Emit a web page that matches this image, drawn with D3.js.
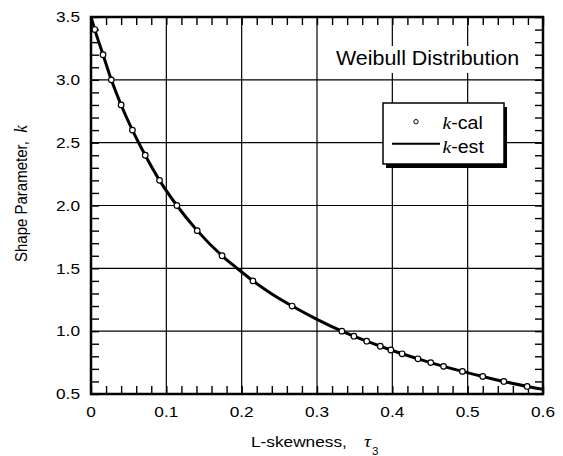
<!DOCTYPE html>
<html>
<head>
<meta charset="utf-8">
<script src="https://cdn.jsdelivr.net/npm/d3@7"></script>
<style>
  body { margin: 0; background: #fff; }
  svg { display: block; }
  text { font-family: "Liberation Sans", Arial, sans-serif; fill: #000; }
  .serif { font-family: "Liberation Serif", "Times New Roman", serif; font-style: italic; }
</style>
</head>
<body>
<div id="chart"></div>
<script>
// calculated points (k-cal)
var tauCal = [0.005, 0.016, 0.027, 0.040, 0.055, 0.072, 0.091, 0.114, 0.141, 0.174, 0.215, 0.267, 0.333,
              0.349, 0.366, 0.384, 0.398, 0.413, 0.434, 0.451, 0.468, 0.493, 0.520, 0.548, 0.579];
var kCal = [3.4, 3.2, 3.0, 2.8, 2.6, 2.4, 2.2, 2.0, 1.8, 1.6, 1.4, 1.2, 1.0,
            0.96, 0.92, 0.88, 0.85, 0.82, 0.78, 0.75, 0.72, 0.68, 0.64, 0.60, 0.56];

// estimated curve (k-est)
var tauEst = [0, 0.005, 0.016, 0.027, 0.040, 0.055, 0.072, 0.091, 0.114, 0.141, 0.174, 0.194, 0.215,
              0.239, 0.267, 0.298, 0.333, 0.366, 0.398, 0.434, 0.468, 0.493, 0.520, 0.548, 0.579, 0.6];
var kEst = [3.5, 3.4, 3.2, 3.0, 2.8, 2.6, 2.4, 2.2, 2.0, 1.8, 1.6, 1.5, 1.4,
            1.3, 1.2, 1.1, 1.0, 0.92, 0.85, 0.78, 0.72, 0.68, 0.64, 0.60, 0.56, 0.537];

var xTicks = [0, 0.1, 0.2, 0.3, 0.4, 0.5, 0.6];
var xLabels = ["0", "0.1", "0.2", "0.3", "0.4", "0.5", "0.6"];
var yTicks = [0.5, 1.0, 1.5, 2.0, 2.5, 3.0, 3.5];
var yLabels = ["0.5", "1.0", "1.5", "2.0", "2.5", "3.0", "3.5"];

var width = 563, height = 456;
var margin = {left: 91, top: 17, right: 20, bottom: 62};
var stretch = 1.15; // the reference text is a bit wider than tall

var svg = d3.select("#chart").append("svg")
    .attr("width", width)
    .attr("height", height);

var x = d3.scaleLinear().domain([0, 0.6]).range([margin.left, width - margin.right]);
var y = d3.scaleLinear().domain([0.5, 3.5]).range([height - margin.bottom, margin.top]);

// helper: horizontally stretched text
function label(px, py, size, anchor, sx) {
    var g = svg.append("g").attr("transform", "translate(" + px + "," + py + ")");
    return g.append("text")
        .attr("transform", "scale(" + (sx || stretch) + ",1)")
        .attr("text-anchor", anchor)
        .style("font-size", size + "px");
}

// grid
svg.append("g").selectAll("line").data(xTicks.slice(1, -1)).enter().append("line")
    .attr("x1", function(d) { return x(d); }).attr("x2", function(d) { return x(d); })
    .attr("y1", y(0.5)).attr("y2", y(3.5))
    .attr("stroke", "#000").attr("stroke-width", 1.2);
svg.append("g").selectAll("line").data(yTicks.slice(1, -1)).enter().append("line")
    .attr("y1", function(d) { return y(d); }).attr("y2", function(d) { return y(d); })
    .attr("x1", x(0)).attr("x2", x(0.6))
    .attr("stroke", "#000").attr("stroke-width", 1.2);

// minor ticks (inside, all four sides)
var xMinor = d3.range(0, 0.6001, 0.02);
var yMinor = d3.range(0.5, 3.5001, 0.1);
function minorAxis(axis, tx, ty) {
    var g = svg.append("g").attr("transform", "translate(" + tx + "," + ty + ")").call(axis);
    g.select(".domain").remove();
    g.selectAll("text").remove();
    g.selectAll("line").attr("stroke-width", 1.4);
}
minorAxis(d3.axisBottom(x).tickValues(xMinor).tickSize(-8), 0, y(0.5));
minorAxis(d3.axisTop(x).tickValues(xMinor).tickSize(-8), 0, y(3.5));
minorAxis(d3.axisLeft(y).tickValues(yMinor).tickSize(-8), x(0), 0);
minorAxis(d3.axisRight(y).tickValues(yMinor).tickSize(-8), x(0.6), 0);

// k-est curve
var estData = tauEst.map(function(t, i) { return [t, kEst[i]]; });
svg.append("defs").append("clipPath").attr("id", "clip")
    .append("rect").attr("x", x(0)).attr("y", y(3.5))
    .attr("width", x(0.6) - x(0)).attr("height", y(0.5) - y(3.5));
svg.append("path")
    .datum(estData)
    .attr("clip-path", "url(#clip)")
    .attr("fill", "none")
    .attr("stroke", "#000")
    .attr("stroke-width", 3)
    .attr("d", d3.line()
        .curve(d3.curveMonotoneX)
        .x(function(d) { return x(d[0]); })
        .y(function(d) { return y(d[1]); }));

// k-cal points
svg.append("g").selectAll("circle").data(tauCal).enter().append("circle")
    .attr("cx", function(d) { return x(d); })
    .attr("cy", function(d, i) { return y(kCal[i]); })
    .attr("r", 2.8)
    .attr("fill", "#fff")
    .attr("stroke", "#000")
    .attr("stroke-width", 1.2);

// frame
svg.append("rect")
    .attr("x", x(0)).attr("y", y(3.5))
    .attr("width", x(0.6) - x(0)).attr("height", y(0.5) - y(3.5))
    .attr("fill", "none").attr("stroke", "#000").attr("stroke-width", 2.5);

// tick labels
xTicks.forEach(function(t, i) {
    label(x(t), 417, 15, "middle").text(xLabels[i]);
});
yTicks.forEach(function(t, i) {
    label(80, y(t) + 5.3, 15, "end").text(yLabels[i]);
});

// axis titles
label(251, 447, 15, "start").text("L-skewness,");
label(364, 447, 17, "start").attr("class", "serif").text("\u03c4");
label(372, 454.5, 10, "start").text("3");

var yt = svg.append("text")
    .attr("transform", "translate(27,262) scale(" + stretch + ",1) rotate(-90)")
    .attr("text-anchor", "start")
    .style("font-size", "15px")
    .attr("xml:space", "preserve");
yt.append("tspan").text("Shape Parameter,  ");
yt.append("tspan").attr("class", "serif").style("font-size", "17px").text("k");

// chart title
svg.append("rect").attr("x", 330).attr("y", 46).attr("width", 196).attr("height", 27).attr("fill", "#fff");
label(336, 65, 19.5, "start", 1.1).text("Weibull Distribution");

// legend
var lg = {x: 383, y: 103, w: 121, h: 61};
svg.append("rect").attr("x", lg.x + 3).attr("y", lg.y + 4).attr("width", lg.w).attr("height", lg.h).attr("fill", "#000");
svg.append("rect").attr("x", lg.x).attr("y", lg.y).attr("width", lg.w).attr("height", lg.h)
    .attr("fill", "#fff").attr("stroke", "#000").attr("stroke-width", 1.5);
svg.append("circle").attr("cx", 416).attr("cy", 121.7).attr("r", 2.2)
    .attr("fill", "#fff").attr("stroke", "#000").attr("stroke-width", 1);
svg.append("line").attr("x1", 392).attr("x2", 440).attr("y1", 143.7).attr("y2", 143.7)
    .attr("stroke", "#000").attr("stroke-width", 2);
var t1 = label(442.5, 129, 17.5, "start", 1.12);
t1.append("tspan").attr("class", "serif").text("k");
t1.append("tspan").text("-cal");
var t2 = label(442.5, 153, 17.5, "start", 1.12);
t2.append("tspan").attr("class", "serif").text("k");
t2.append("tspan").text("-est");
</script>
</body>
</html>
